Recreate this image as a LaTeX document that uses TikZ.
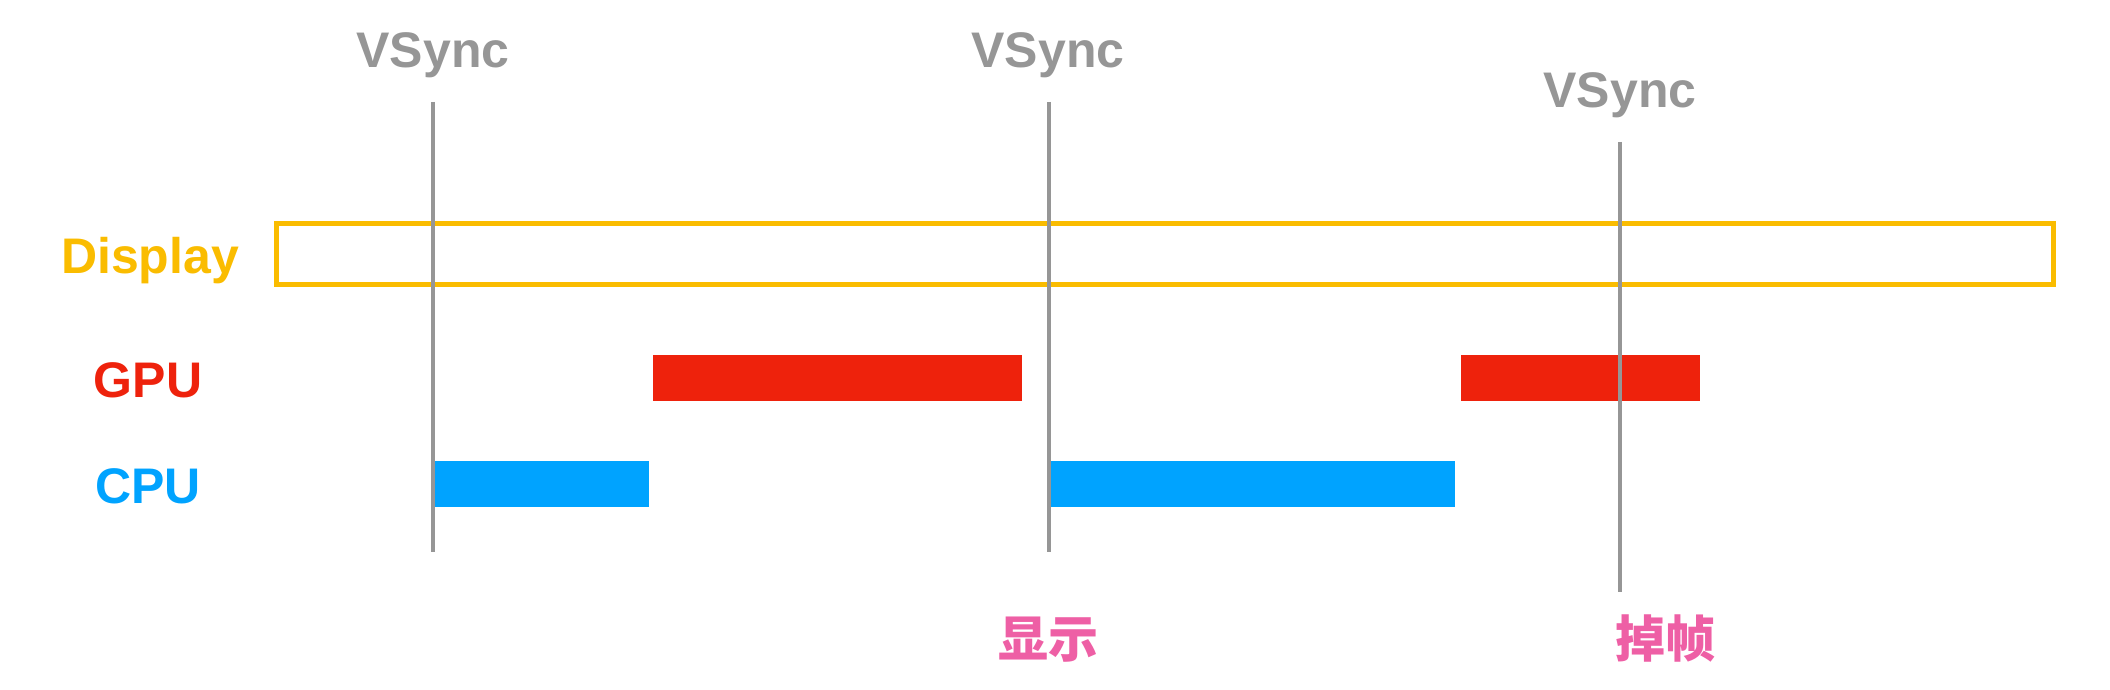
\documentclass[tikz,border=0pt]{standalone}
\usepackage{fontspec}
\setmainfont{Liberation Sans}
\newfontfamily\cjk{Noto Sans CJK SC}
\usepackage{tikz}
\usetikzlibrary{positioning}
\definecolor{syncgray}{RGB}{150,150,150}
\definecolor{dispyellow}{RGB}{250,188,0}
\definecolor{gpured}{RGB}{238,34,12}
\definecolor{cpublue}{RGB}{0,163,255}
\definecolor{markpink}{RGB}{238,95,165}
\tikzstyle{rowlabel}=[inner sep=0pt, anchor=base, font=\fontsize{50}{60}\selectfont\bfseries]
\tikzstyle{synclabel}=[rowlabel, text=syncgray]
\tikzstyle{note}=[inner sep=0pt, anchor=base, text=markpink, font=\fontsize{50}{60}\selectfont\cjk\bfseries]
\tikzstyle{syncline}=[draw=syncgray, line width=4pt]
\tikzstyle{displaybox}=[draw=dispyellow, line width=5pt]

\begin{document}
\begin{tikzpicture}[x=1pt, y=-1pt]
		\useasboundingbox (0,0) rectangle (2110,690);
		% rows
		\node[rowlabel, text=dispyellow] (display) at (150,273) {Display};
		\node[rowlabel, text=gpured] (gpu) at (148,397) {GPU};
		\node[rowlabel, text=cpublue] (cpu) at (148,503) {CPU};
		\draw[displaybox] (276.5,223.5) rectangle (2053.5,284.5);
		\fill[gpured] (653,355) rectangle (1022,401);
		\fill[gpured] (1461,355) rectangle (1700,401);
		\fill[cpublue] (433,461) rectangle (649,507);
		\fill[cpublue] (1049,461) rectangle (1455,507);
		% vsync lines
		\coordinate (s1top) at (433,102);
		\coordinate (s1bot) at (433,552);
		\coordinate (s2top) at (1049,102);
		\coordinate (s2bot) at (1049,552);
		\coordinate (s3top) at (1620,142);
		\coordinate (s3bot) at (1620,592);
		\node[synclabel] (sync1) at (433,68) {VSync};
		\node[synclabel] (sync2) at (1048,68) {VSync};
		\node[synclabel] (sync3) at (1620,108) {VSync};
		\draw[syncline] (s1top) -- (s1bot);
		\draw[syncline] (s2top) -- (s2bot);
		\draw[syncline] (s3top) -- (s3bot);
		% notes
		\node[note] (shown) at (1048,657) {显示};
		\node[note] (dropped) at (1665,657) {掉帧};
	\end{tikzpicture}
\end{document}
